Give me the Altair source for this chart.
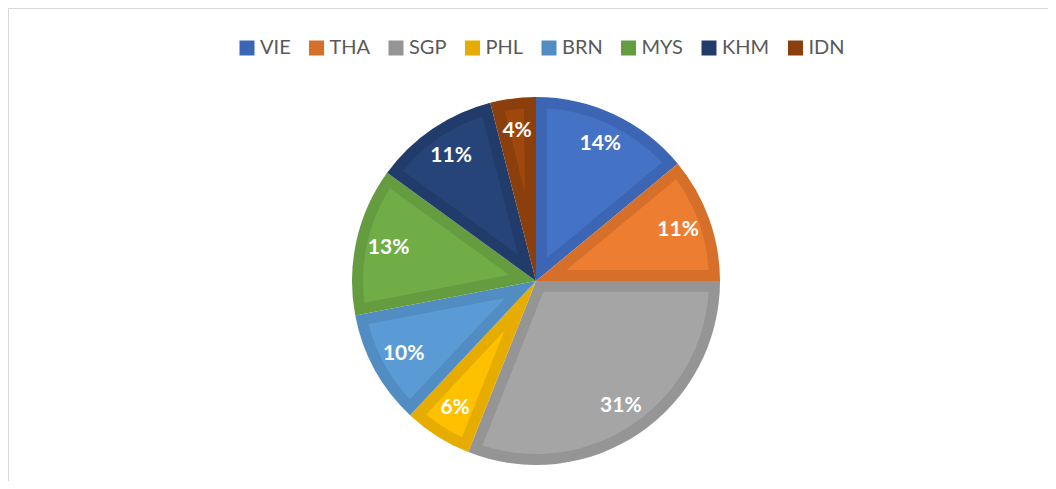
import altair as alt
import pandas as pd

countries = ["VIE", "THA", "SGP", "PHL", "BRN", "MYS", "KHM", "IDN"]
shares = [14, 11, 31, 6, 10, 13, 11, 4]
light_colors = ["#4472C4", "#ED7D31", "#A5A5A5", "#FFC000", "#5B9BD5", "#70AD47", "#264478", "#9E480E"]
dark_colors = ["#3C66B3", "#D66F2A", "#959595", "#E6AD00", "#518CC2", "#659C40", "#213C6B", "#8B3F0C"]

df = pd.DataFrame({"country": countries, "share": shares, "idx": list(range(len(countries)))})

BAND = 11
R_OUT = 184
CX, CY = 528, 273

base = alt.Chart(df).encode(
    theta=alt.Theta("share:Q", stack=True),
    order=alt.Order("idx:Q"),
)

dark = base.mark_arc(radius=R_OUT).encode(
    x=alt.value(CX), y=alt.value(CY),
    color=alt.Color(
        "country:N",
        scale=alt.Scale(domain=countries, range=dark_colors),
        sort=countries,
        legend=alt.Legend(
            title=None, orient="none", legendX=229, legendY=30, direction="horizontal",
            symbolType="square", symbolSize=225, symbolStrokeWidth=0, symbolOpacity=1,
            labelFont="Lato", labelFontSize=20, labelColor="#595959", labelOffset=3,
            columnPadding=15.5, padding=0,
        ),
    ),
)

light = base.transform_joinaggregate(
    total="sum(share)"
).transform_calculate(
    r0=f"{BAND} / sin(PI * datum.share / datum.total)",
    r1=f"{R_OUT - BAND}",
).mark_arc(padAngle=0.124).encode(
    x=alt.value(CX), y=alt.value(CY),
    radius=alt.Radius("r1:Q", scale=None),
    radius2=alt.Radius2("r0:Q"),
    fill=alt.Fill(
        "country:N",
        scale=alt.Scale(domain=countries, range=light_colors),
        legend=None,
    ),
)

labels = base.transform_calculate(
    label="datum.share + '%'"
).mark_text(
    radius=151, font="Lato", fontSize=21, fontWeight="bold", color="white",
    align="center", baseline="middle",
).encode(
    x=alt.value(CX), y=alt.value(CY),
    text="label:N",
)

border_top = alt.Chart(df).mark_rule(color="#D9D9D9", strokeWidth=2).encode(
    x=alt.value(0), x2=alt.value(1040), y=alt.value(0)
)
border_left = alt.Chart(df).mark_rule(color="#D9D9D9", strokeWidth=2).encode(
    x=alt.value(0), y=alt.value(0), y2=alt.value(473)
)

chart = alt.layer(border_top, border_left, dark, light, labels).resolve_scale(
    color="independent", fill="independent"
).properties(
    width=1040, height=473, padding=0, autosize="none", background="white"
).configure_view(stroke=None)

chart.save("out.html", embed_options={"renderer": "svg", "actions": False})
